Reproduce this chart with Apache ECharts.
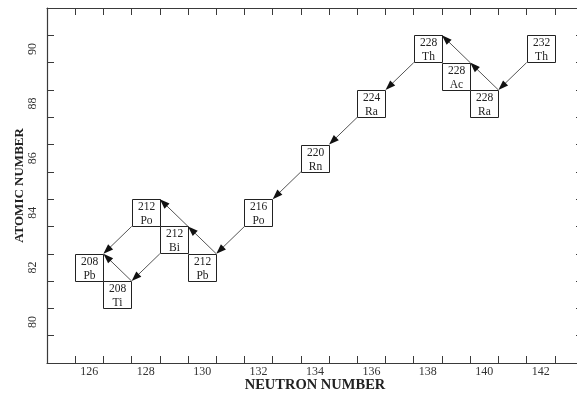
<!DOCTYPE html>
<html>
<head>
<meta charset="utf-8">
<script src="https://cdn.jsdelivr.net/npm/echarts@6/dist/echarts.min.js"></script>
<style>html,body{margin:0;padding:0;background:#fff;}#c{width:577px;height:394px;}</style>
</head>
<body>
<div id="c"></div>
<script>
// Nuclides of the thorium decay series
const nuclideN = [142, 140, 139, 138, 136, 134, 132, 130, 129, 128, 127, 126];
const nuclideZ = [90, 88, 89, 90, 88, 86, 84, 82, 83, 84, 81, 82];
const massNumbers = [232, 228, 228, 228, 224, 220, 216, 212, 212, 212, 208, 208];
const symbols = ['Th', 'Ra', 'Ac', 'Th', 'Ra', 'Rn', 'Po', 'Pb', 'Bi', 'Po', 'Ti', 'Pb'];
// Decays (indices into nuclide arrays)
const decayFrom = [0, 1, 2, 3, 4, 5, 6, 7, 8, 8, 9, 10];
const decayTo   = [1, 2, 3, 4, 5, 6, 7, 8, 9, 10, 11, 11];
const decayMode = ['alpha', 'beta', 'beta', 'alpha', 'alpha', 'alpha', 'alpha', 'beta', 'beta', 'alpha', 'alpha', 'beta'];
// Axis ticks / labels
const xTickLabels = [126, 128, 130, 132, 134, 136, 138, 140, 142];
const yTickLabels = [80, 82, 84, 86, 88, 90];
const xMin = 124.5, xMax = 143.5, yMin = 78.5, yMax = 91.5;

const xTicks = []; for (let v = xMin + 1; v < xMax; v += 1) xTicks.push(v);
const yTicks = []; for (let v = yMin + 1; v < yMax; v += 1) yTicks.push(v);

const chart = echarts.init(document.getElementById('c'), null, {renderer: 'canvas'});
const serif = 'Liberation Serif';
const axisColor = '#3a3a3a';

const boxData = nuclideN.map((n, i) => [n, nuclideZ[i], massNumbers[i], symbols[i]]);
const arrowData = decayFrom.map((f, i) => {
  const t = decayTo[i];
  const fn = nuclideN[f], fz = nuclideZ[f];
  const start = decayMode[i] === 'alpha' ? [fn - 0.5, fz - 0.5] : [fn + 0.5, fz + 0.5];
  const end = [nuclideN[t] + 0.5, nuclideZ[t] + 0.5];
  return [start[0], start[1], end[0], end[1]];
});

function baseX(pos, showLabel) {
  return {
    type: 'value', position: pos, min: xMin, max: xMax,
    axisLine: {show: true, onZero: false, lineStyle: {color: axisColor, width: 1.2}},
    axisTick: {show: true, inside: true, length: 7, customValues: xTicks, lineStyle: {color: axisColor}},
    axisLabel: showLabel ? {show: true, customValues: xTickLabels, fontFamily: serif, fontSize: 12, color: '#333', margin: 3} : {show: false},
    splitLine: {show: false}
  };
}
function baseY(pos, showLabel) {
  return {
    type: 'value', position: pos, min: yMin, max: yMax,
    axisLine: {show: true, onZero: false, lineStyle: {color: axisColor, width: 1.2}},
    axisTick: {show: true, inside: true, length: 7, customValues: yTicks, lineStyle: {color: axisColor}},
    axisLabel: showLabel ? {show: true, customValues: yTickLabels, fontFamily: serif, fontSize: 12, color: '#333', margin: 8, rotate: 90} : {show: false},
    splitLine: {show: false}
  };
}

const xBottom = baseX('bottom', true);
xBottom.name = 'NEUTRON NUMBER';
xBottom.nameLocation = 'middle';
xBottom.nameGap = 15;
xBottom.nameMoveOverlap = false;
xBottom.nameTextStyle = {fontFamily: serif, fontWeight: 'bold', fontSize: 14.5, color: '#222'};
const yLeft = baseY('left', true);
yLeft.name = 'ATOMIC NUMBER';
yLeft.nameLocation = 'middle';
yLeft.nameGap = 21;
yLeft.nameMoveOverlap = false;
yLeft.nameTextStyle = {fontFamily: serif, fontWeight: 'bold', fontSize: 13, color: '#222'};

chart.setOption({
  animation: false,
  backgroundColor: '#fff',
  grid: {left: 47, top: 8, width: 536, height: 355, containLabel: false, outerBoundsMode: 'none'},
  xAxis: [xBottom, baseX('top', false)],
  yAxis: [yLeft, baseY('right', false)],
  series: [
    {
      type: 'custom', xAxisIndex: 0, yAxisIndex: 0, data: boxData, z: 2,
      renderItem: function (params, api) {
        const n = api.value(0), z = api.value(1);
        const tl = api.coord([n - 0.5, z + 0.5]);
        const sz = api.size([1, 1]);
        const d = boxData[params.dataIndex];
        const x = Math.round(tl[0]) + 0.5, y = Math.round(tl[1]) + 0.5;
        const w = Math.round(sz[0]), h = Math.round(sz[1]);
        return {
          type: 'group',
          children: [
            {type: 'rect', shape: {x: x, y: y, width: w, height: h}, style: {fill: '#fff', stroke: '#222', lineWidth: 1}},
            {type: 'text', x: x + w / 2, y: y + 7.5, style: {text: String(d[2]), fontFamily: serif, fontSize: 11.5, fill: '#222', align: 'center', verticalAlign: 'middle'}},
            {type: 'text', x: x + w / 2, y: y + 21, style: {text: d[3], fontFamily: serif, fontSize: 11.5, fill: '#222', align: 'center', verticalAlign: 'middle'}}
          ]
        };
      }
    },
    {
      type: 'custom', xAxisIndex: 0, yAxisIndex: 0, data: arrowData, z: 3,
      renderItem: function (params, api) {
        const p1 = api.coord([api.value(0), api.value(1)]);
        const p2 = api.coord([api.value(2), api.value(3)]);
        const dx = p2[0] - p1[0], dy = p2[1] - p1[1];
        const len = Math.sqrt(dx * dx + dy * dy);
        const ux = dx / len, uy = dy / len;
        const hl = 10, hw = 3.6;
        const bx = p2[0] - ux * hl, by = p2[1] - uy * hl;
        const px = -uy, py = ux;
        return {
          type: 'group',
          children: [
            {type: 'line', shape: {x1: p1[0], y1: p1[1], x2: bx + ux * 2, y2: by + uy * 2}, style: {stroke: '#555', lineWidth: 1}},
            {type: 'polygon', shape: {points: [[p2[0], p2[1]], [bx + px * hw, by + py * hw], [bx - px * hw, by - py * hw]]}, style: {fill: '#111'}}
          ]
        };
      }
    }
  ]
});
</script>
</body>
</html>
